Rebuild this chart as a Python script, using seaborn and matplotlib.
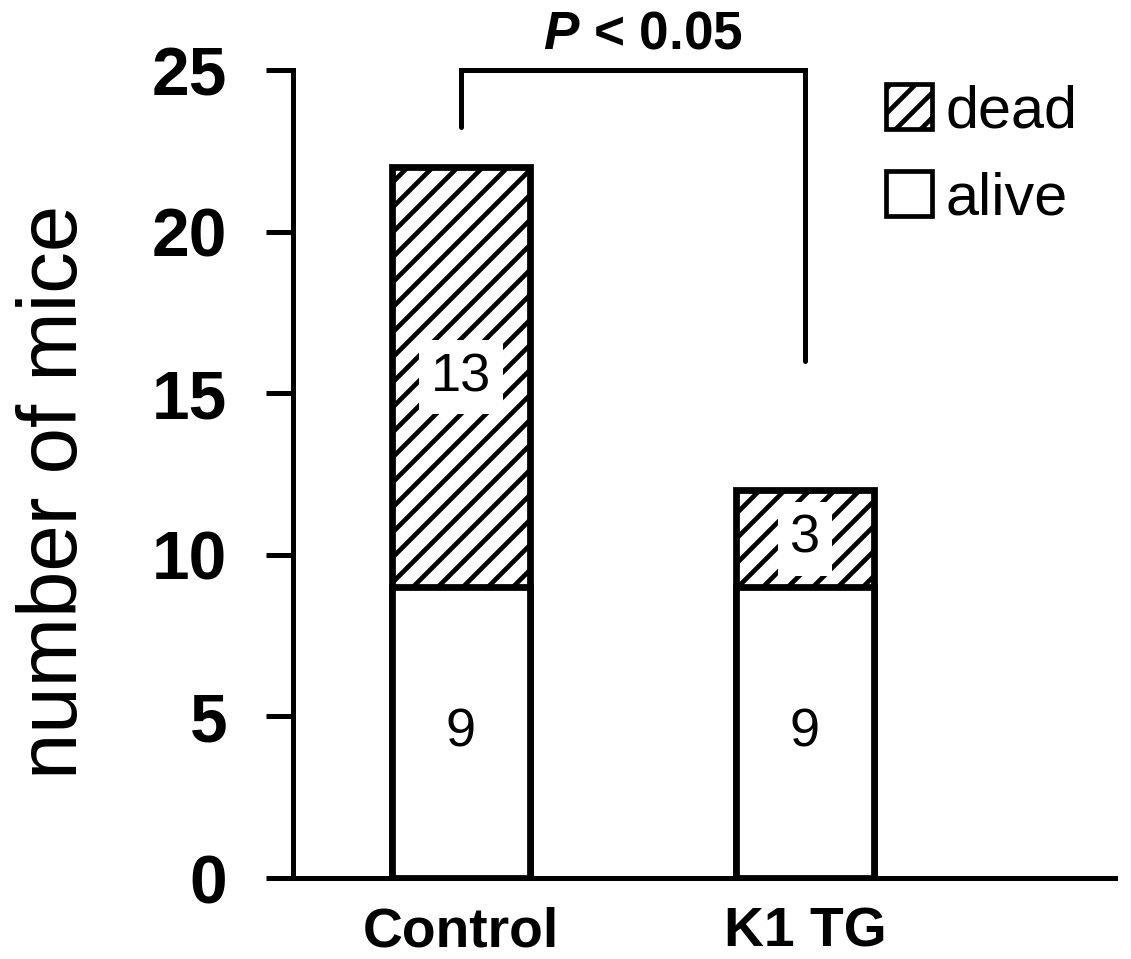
import matplotlib
matplotlib.use("Agg")
import matplotlib.pyplot as plt
import seaborn as sns
import pandas as pd
from matplotlib.patches import Patch

# ---- data ----
groups = ["Control", "K1 TG"]
alive = [9, 9]
dead = [13, 3]
y_ticks = [0, 5, 10, 15, 20, 25]
y_label = "number of mice"
legend_labels = ["dead", "alive"]
p_text = "< 0.05"
bracket_top = 25.0
bracket_ends = [23.25, 16.0]

sns.set_style("white")
plt.rcParams["font.family"] = ["Liberation Sans", "DejaVu Sans"]
plt.rcParams["mathtext.fontset"] = "custom"
plt.rcParams["mathtext.bfit"] = "Liberation Sans:italic:bold"
plt.rcParams["mathtext.rm"] = "Liberation Sans:bold"
plt.rcParams["hatch.linewidth"] = 4.5
plt.rcParams["hatch.color"] = "black"
for key in ["text.color", "axes.labelcolor", "xtick.color", "ytick.color", "axes.edgecolor"]:
    plt.rcParams[key] = "black"

totals = [a + d for a, d in zip(alive, dead)]
df = pd.DataFrame({"group": groups, "alive": alive, "dead": dead, "total": totals})

DPI = 75
fig = plt.figure(figsize=(1131 / DPI, 959 / DPI), dpi=DPI)
ax = fig.add_axes([293 / 1131, 1 - 878 / 959, (1115 - 293) / 1131, (878 - 70) / 959])

LW = 6.5
sns.barplot(data=df, x="group", y="total", color="white", edgecolor="black",
            linewidth=LW, hatch="/", width=0.4, saturation=1, errorbar=None, ax=ax)
sns.barplot(data=df, x="group", y="alive", color="white", edgecolor="black",
            linewidth=LW, width=0.4, saturation=1, errorbar=None, ax=ax)

ax.set_xlim(-0.488, 1.901)
ax.set_ylim(0, 25)
ax.set_yticks(y_ticks)
ax.set_yticklabels([str(t) for t in y_ticks], fontsize=65, fontweight="bold")
ax.set_xticks(range(len(groups)))
ax.set_xticklabels(groups, fontsize=53, fontweight="bold")
ax.tick_params(axis="y", direction="out", length=26, width=4.8, pad=37, left=True)
ax.tick_params(axis="x", length=0, pad=27)
ax.set_xlabel("")
ax.set_ylabel(y_label, fontsize=80, va="center")
ax.yaxis.set_label_coords(-0.29, 0.478)

for side in ["top", "right"]:
    ax.spines[side].set_visible(False)
for side in ["left", "bottom"]:
    ax.spines[side].set_linewidth(4.8)
    ax.spines[side].set_color("black")

# segment counts
for i, (a, d) in enumerate(zip(alive, dead)):
    ax.text(i, a / 2, str(a), ha="center", va="center", fontsize=52, color="black")
    ax.text(i, a + d / 2, str(d), ha="center", va="center", fontsize=52, color="black",
            bbox=dict(boxstyle="square,pad=0.22", facecolor="white", edgecolor="none"),
            zorder=5)

# significance bracket
ax.plot([0, 0, 1, 1], [bracket_ends[0], bracket_top, bracket_top, bracket_ends[1]],
        color="black", lw=4.8, clip_on=False, solid_joinstyle="miter", zorder=6)
ax.text(0.53, 26.1, r"$\bfit{P}$ " + p_text, ha="center", va="center",
        fontsize=51, fontweight="bold", clip_on=False)

# legend
handles = [Patch(facecolor="white", edgecolor="black", hatch="/", linewidth=4.5),
           Patch(facecolor="white", edgecolor="black", linewidth=4.5)]
fig.legend(handles, legend_labels, loc="upper left",
           bbox_to_anchor=(886 / 1131, 1 - 84 / 959), frameon=False,
           fontsize=57, handlelength=0.78, handleheight=0.78,
           handletextpad=0.22, labelspacing=0.54, borderpad=0, borderaxespad=0)

fig.savefig("out.png", dpi=DPI, facecolor="white")
